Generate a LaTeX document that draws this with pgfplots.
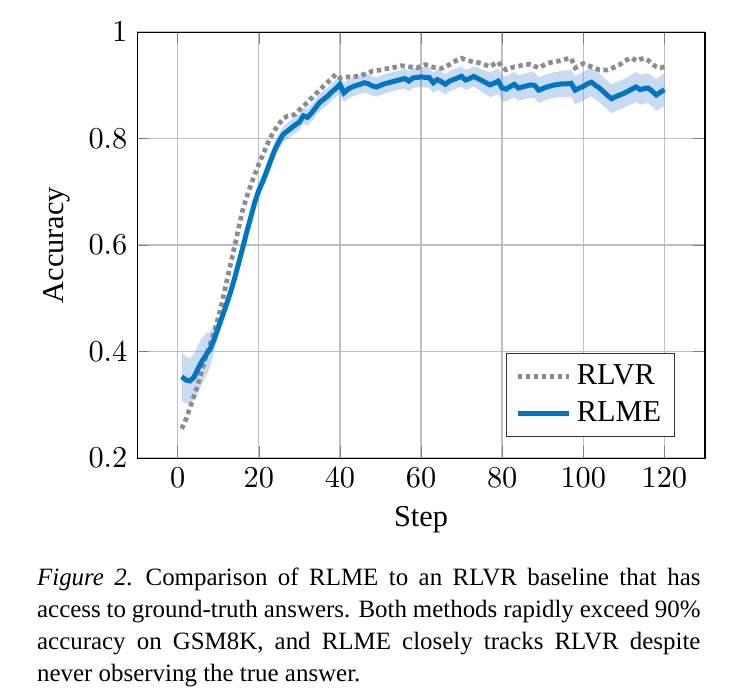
\documentclass[border=0pt]{standalone}
\usepackage{pgfplots}
\pgfplotsset{compat=1.18}
\usepackage{pgfplotstable}
\usepgfplotslibrary{fillbetween}
\usepackage{fontspec}
\setmainfont{Liberation Serif}

\definecolor{rlmeblue}{RGB}{0,118,194}
\definecolor{bandblue}{RGB}{100,150,220}
\definecolor{rlvrgray}{RGB}{140,140,140}

\pgfplotstableread{
x y e
1 0.353 0.046
2 0.347 0.044
3 0.345 0.042
4 0.352 0.043
5 0.368 0.044
6 0.382 0.043
7 0.394 0.040
8 0.405 0.033
9 0.423 0.022
10 0.445 0.015
11 0.466 0.012
12 0.488 0.012
13 0.511 0.012
14 0.537 0.012
15 0.565 0.012
16 0.594 0.012
17 0.624 0.012
18 0.652 0.012
19 0.680 0.012
20 0.703 0.013
21 0.720 0.014
22 0.740 0.015
23 0.760 0.015
24 0.780 0.015
25 0.795 0.015
26 0.808 0.015
27 0.814 0.015
28 0.820 0.015
29 0.826 0.015
30 0.831 0.015
31 0.843 0.015
32 0.840 0.016
33 0.848 0.016
34 0.858 0.016
35 0.868 0.016
36 0.874 0.016
37 0.880 0.016
38 0.888 0.016
39 0.894 0.016
40 0.902 0.017
41 0.886 0.018
42 0.893 0.018
43 0.897 0.018
44 0.900 0.018
45 0.902 0.018
46 0.905 0.018
47 0.903 0.018
48 0.899 0.018
49 0.897 0.018
50 0.900 0.018
51 0.903 0.018
52 0.905 0.018
53 0.907 0.018
54 0.909 0.018
55 0.911 0.018
56 0.913 0.019
57 0.908 0.019
58 0.914 0.019
59 0.915 0.019
60 0.916 0.019
61 0.915 0.019
62 0.915 0.019
63 0.905 0.019
64 0.911 0.019
65 0.907 0.019
66 0.902 0.019
67 0.908 0.019
68 0.911 0.019
69 0.914 0.019
70 0.917 0.019
71 0.910 0.019
72 0.913 0.019
73 0.917 0.019
74 0.913 0.020
75 0.909 0.021
76 0.905 0.022
77 0.901 0.023
78 0.904 0.024
79 0.908 0.024
80 0.895 0.024
81 0.893 0.024
82 0.898 0.024
83 0.902 0.024
84 0.895 0.024
85 0.897 0.024
86 0.899 0.024
87 0.901 0.024
88 0.900 0.024
89 0.891 0.024
90 0.894 0.024
91 0.897 0.024
92 0.899 0.024
93 0.901 0.024
94 0.902 0.024
95 0.903 0.025
96 0.903 0.025
97 0.904 0.025
98 0.891 0.026
99 0.895 0.027
100 0.898 0.027
101 0.903 0.027
102 0.906 0.027
103 0.900 0.027
104 0.895 0.027
105 0.888 0.027
106 0.881 0.027
107 0.875 0.027
108 0.879 0.027
109 0.882 0.027
110 0.885 0.027
111 0.889 0.027
112 0.893 0.028
113 0.897 0.028
114 0.892 0.028
115 0.894 0.028
116 0.895 0.028
117 0.889 0.029
118 0.882 0.030
119 0.887 0.030
120 0.892 0.031
}\rlme

\pgfplotstableread{
x y
1 0.255
2 0.272
3 0.294
4 0.316
5 0.338
6 0.366
7 0.392
8 0.414
9 0.437
10 0.464
11 0.494
12 0.529
13 0.563
14 0.597
15 0.631
16 0.665
17 0.690
18 0.712
19 0.733
20 0.752
21 0.770
22 0.788
23 0.804
24 0.817
25 0.828
26 0.838
27 0.842
28 0.843
29 0.846
30 0.854
31 0.861
32 0.868
33 0.876
34 0.884
35 0.891
36 0.899
37 0.906
38 0.913
39 0.921
40 0.914
41 0.915
42 0.916
43 0.915
44 0.917
45 0.918
46 0.921
47 0.923
48 0.927
49 0.928
50 0.929
51 0.931
52 0.932
53 0.933
54 0.935
55 0.937
56 0.936
57 0.935
58 0.934
59 0.933
60 0.936
61 0.939
62 0.937
63 0.934
64 0.933
65 0.932
66 0.935
67 0.939
68 0.944
69 0.948
70 0.951
71 0.948
72 0.946
73 0.944
74 0.943
75 0.941
76 0.938
77 0.935
78 0.940
79 0.944
80 0.934
81 0.929
82 0.932
83 0.935
84 0.936
85 0.938
86 0.939
87 0.940
88 0.936
89 0.933
90 0.937
91 0.941
92 0.943
93 0.944
94 0.946
95 0.948
96 0.950
97 0.951
98 0.933
99 0.937
100 0.941
101 0.938
102 0.935
103 0.932
104 0.929
105 0.929
106 0.929
107 0.932
108 0.935
109 0.939
110 0.945
111 0.949
112 0.952
113 0.946
114 0.949
115 0.951
116 0.947
117 0.940
118 0.935
119 0.933
120 0.935
}\rlvr

\begin{document}
\begin{tikzpicture}
\begin{axis}[
  scale only axis,
  width=205pt, height=153.8pt,
  xmin=-10, xmax=130, ymin=0.2, ymax=1,
  xtick={0,20,...,120},
  ytick={0.2,0.4,0.6,0.8,1},
  grid=major,
  major grid style={black!25, line width=0.5pt},
  font=\fontsize{10.95}{13}\selectfont,
  tick label style={font=\fontsize{10.95}{13}\selectfont},
  xlabel={Step}, ylabel={Accuracy},
  legend style={at={(0.948,0.05)}, anchor=south east, draw=black!80,
    font=\fontsize{10.95}{13}\selectfont, cells={anchor=west},
    row sep=0.5pt, inner xsep=3pt},
  legend image code/.code={\draw[#1] (0cm,0cm) -- (0.65cm,0cm);},
]
\addplot[draw=none, name path=U, forget plot] table[x=x, y expr=\thisrow{y}+\thisrow{e}] {\rlme};
\addplot[draw=none, name path=L, forget plot] table[x=x, y expr=\thisrow{y}-\thisrow{e}] {\rlme};
\addplot[bandblue, fill opacity=0.35, draw=none, forget plot] fill between[of=U and L];
\addplot[rlvrgray, line width=1.7pt, dash pattern=on 1.6pt off 1.3pt] table[x=x,y=y] {\rlvr};
\addlegendentry{RLVR}
\addplot[rlmeblue, line width=1.8pt] table[x=x,y=y] {\rlme};
\addlegendentry{RLME}
\end{axis}
\node[anchor=north west, inner sep=0pt, text width=239.5pt, align=justify,
  font=\fontsize{9}{11.55}\selectfont] at (-36.3pt,-39.5pt)
  {\textit{Figure 2.}\enspace Comparison of RLME to an RLVR baseline that has\linebreak
   access to ground-truth answers. Both methods rapidly exceed 90\%\linebreak
   accuracy on GSM8K, and RLME closely tracks RLVR despite\linebreak
   never observing the true answer.};
\path (-49.5pt,-87.3pt) rectangle (216.2pt,165.4pt);
\end{tikzpicture}
\end{document}
